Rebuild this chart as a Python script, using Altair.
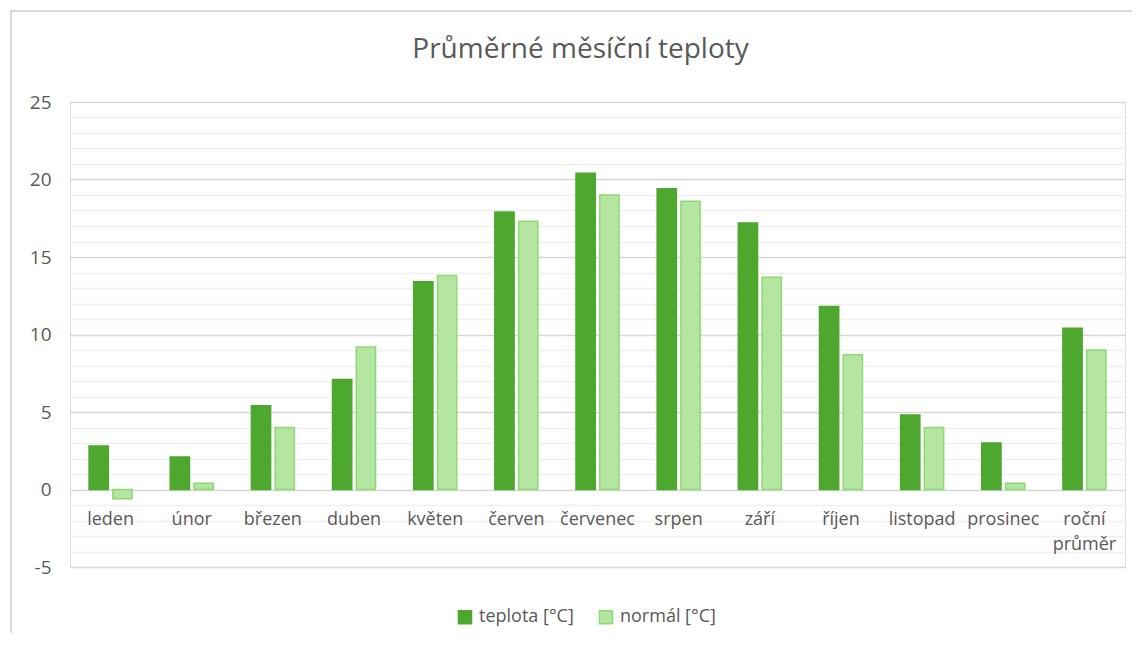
import altair as alt
import pandas as pd

months = ["leden", "únor", "březen", "duben", "květen", "červen", "červenec",
          "srpen", "září", "říjen", "listopad", "prosinec", "roční průměr"]
teplota = [2.8, 2.1, 5.4, 7.1, 13.4, 17.9, 20.4, 19.4, 17.2, 11.8, 4.8, 3.0, 10.4]
normal = [-0.6, 0.4, 4.0, 9.2, 13.8, 17.3, 19.0, 18.6, 13.7, 8.7, 4.0, 0.4, 9.0]
series = ["teplota [°C]", "normál [°C]"]

rows = []
for m, t, n in zip(months, teplota, normal):
    rows.append({"mesic": m, "rada": series[0], "hodnota": t})
    rows.append({"mesic": m, "rada": series[1], "hodnota": n})
df = pd.DataFrame(rows)

FONT = "Open Sans"
GRAY = "#595959"

leg = dict(title=None, orient="none", direction="horizontal",
           legendX=386, legendY=506, symbolType="square", symbolSize=170,
           symbolStrokeWidth=1.5, labelFontSize=18, labelColor=GRAY,
           labelFont=FONT, labelOffset=5, columnPadding=22)

bars = alt.Chart(df).mark_bar(strokeWidth=1.5).encode(
    x=alt.X("mesic:N", sort=months,
            scale=alt.Scale(paddingInner=0.47, paddingOuter=0.235),
            axis=alt.Axis(title=None, orient="bottom", offset=-77.5, domain=False,
                          ticks=False, labelAngle=0, labelPadding=21,
                          labelFontSize=18, labelColor=GRAY, labelFont=FONT,
                          labelLineHeight=25, labelBaseline="top",
                          labelExpr="split(datum.label, ' ')")),
    xOffset=alt.XOffset("rada:N", sort=series,
                        scale=alt.Scale(paddingInner=0.19, paddingOuter=0)),
    y=alt.Y("hodnota:Q", scale=alt.Scale(domain=[-5, 25], nice=False),
            axis=alt.Axis(title=None, values=list(range(-5, 26)), domain=False,
                          ticks=False, labelPadding=19, labelFontSize=19,
                          labelColor=GRAY, labelFont=FONT,
                          labelExpr="datum.value % 5 === 0 ? '' + datum.value : ''",
                          gridColor={"condition": {"test": "datum.value % 5 === 0",
                                                   "value": "#d6d6d6"},
                                     "value": "#efefef"},
                          gridWidth=1.3)),
    color=alt.Color("rada:N", sort=series,
                    scale=alt.Scale(domain=series, range=["#4ea72e", "#b4e6a2"]),
                    legend=alt.Legend(**leg)),
    stroke=alt.Stroke("rada:N", sort=series,
                      scale=alt.Scale(domain=series, range=["#4ea72e", "#8ed973"]),
                      legend=alt.Legend(**leg)),
)

frame = alt.Chart(pd.DataFrame({"a": [0]})).mark_rect(
    fill=None, filled=False, stroke="#d9d9d9", strokeWidth=2
).encode(
    x=alt.value(-59), x2=alt.value(1200),
    y=alt.value(-91), y2=alt.value(700),
)

chart = alt.layer(frame, bars).properties(
    width=1055, height=465,
    title=alt.TitleParams("Průměrné měsíční teploty", fontSize=28, font=FONT,
                          fontWeight="normal", color=GRAY, anchor="middle",
                          dx=-17, offset=-54),
    padding={"left": 62, "top": 94, "right": 7, "bottom": 66},
    autosize=alt.AutoSizeParams(type="none"),
).configure_view(stroke=None).configure(background="white")

chart.save("out.html", embed_options={"renderer": "svg", "actions": False})
